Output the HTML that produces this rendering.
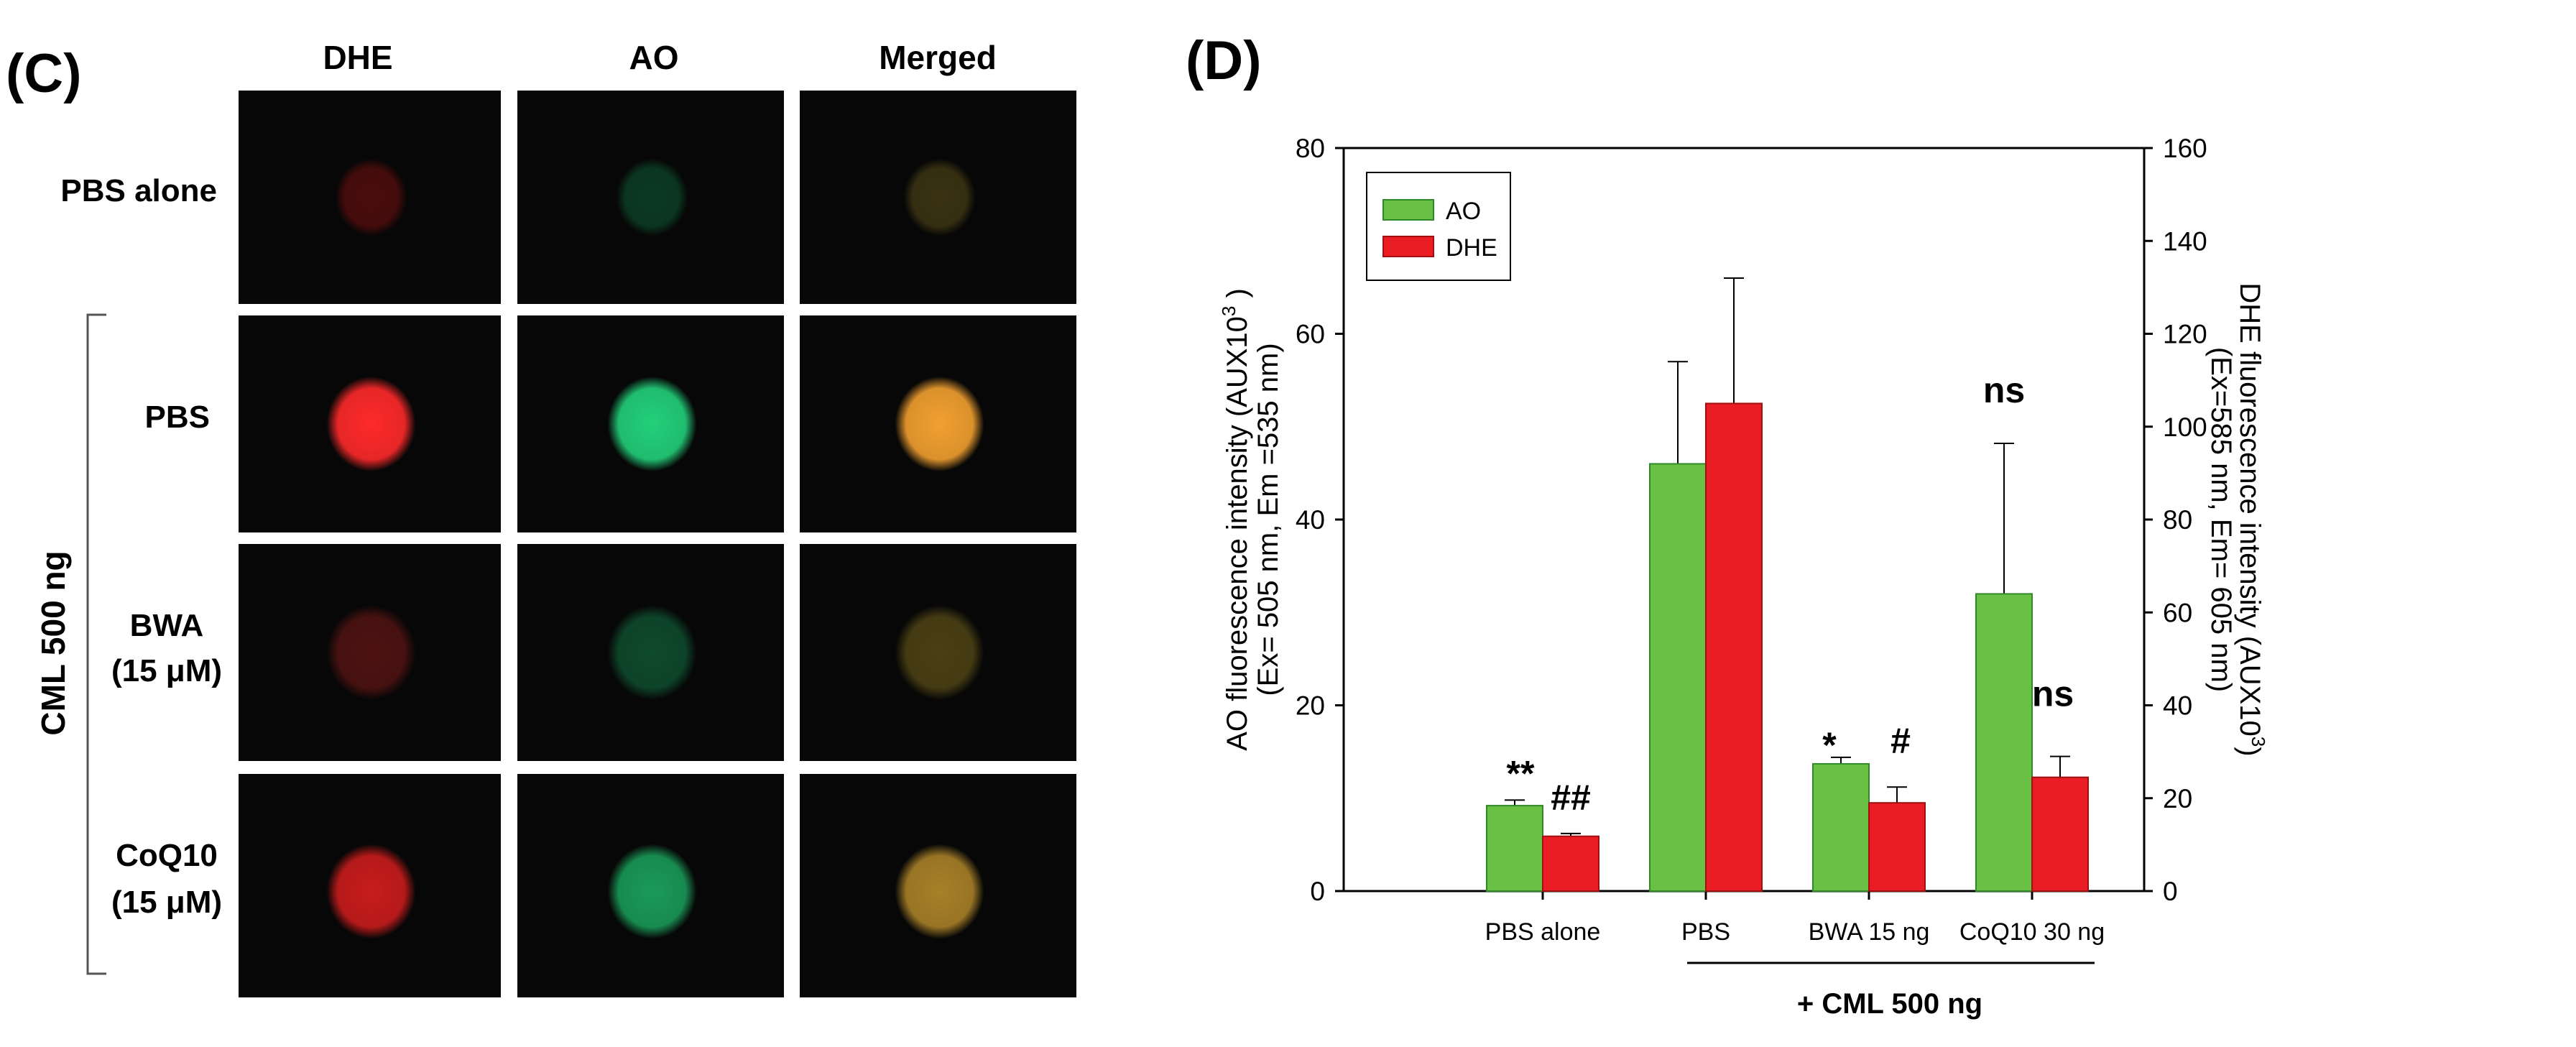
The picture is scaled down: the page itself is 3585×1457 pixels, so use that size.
<!DOCTYPE html>
<html><head><meta charset="utf-8"><style>
html,body{margin:0;padding:0;background:#fff;}
svg{display:block;font-family:"Liberation Sans",sans-serif;}
.b{font-weight:bold;}
</style></head><body>
<svg id="s" width="3585" height="1457" viewBox="0 0 3585 1457" xmlns="http://www.w3.org/2000/svg">
<defs></defs>
<g id="panelC">
<text x="8" y="128" font-size="76" class="b">(C)</text>
<text x="498" y="96" font-size="46" class="b" text-anchor="middle">DHE</text>
<text x="910" y="96" font-size="46" class="b" text-anchor="middle">AO</text>
<text x="1305" y="96" font-size="46" class="b" text-anchor="middle">Merged</text>
<text x="302" y="280" font-size="44" class="b" text-anchor="end">PBS alone</text>
<text x="292" y="595" font-size="44" class="b" text-anchor="end">PBS</text>
<text x="232" y="885" font-size="44" class="b" text-anchor="middle">BWA</text>
<text x="232" y="948" font-size="44" class="b" text-anchor="middle">(15 μM)</text>
<text x="232" y="1205" font-size="44" class="b" text-anchor="middle">CoQ10</text>
<text x="232" y="1270" font-size="44" class="b" text-anchor="middle">(15 μM)</text>
<path d="M148,438 H122 V1355 H148" fill="none" stroke="#555" stroke-width="3"/>
<text transform="translate(90,895) rotate(-90)" font-size="46" class="b" text-anchor="middle">CML 500 ng</text>
</g>
<g id="panelD">
<text x="1650" y="110" font-size="76" class="b">(D)</text>
</g>
</svg>
<script>
// ---- Panel C micrographs ----
const colX=[332,720,1113], colW=[365,371,385];
const rowY=[126,439,757,1077], rowH=[297,302,302,311];
const cellColors=[
 ["#4a0c0c","#0b3a22","#3a3212"],
 ["#ff2a2a","#22d07a","#f2a030"],
 ["#4e1212","#0e4a2c","#4a4014"],
 ["#c81c1c","#1a9a58","#a88028"]
];
const svg=document.getElementById('s');
const C=document.getElementById('panelC');
const NS="http://www.w3.org/2000/svg";
function mk(t,a,p){const e=document.createElementNS(NS,t);for(const k in a)e.setAttribute(k,a[k]);(p||svg).appendChild(e);return e;}
const defs=svg.querySelector('defs');
for(let r=0;r<4;r++)for(let c=0;c<3;c++){
  const g=mk('radialGradient',{id:'g'+r+c},defs);
  mk('stop',{offset:'0','stop-color':cellColors[r][c],'stop-opacity':'1'},g);
  mk('stop',{offset:'0.75','stop-color':cellColors[r][c],'stop-opacity':'0.9'},g);
  mk('stop',{offset:'1','stop-color':cellColors[r][c],'stop-opacity':'0'},g);
  const rect=mk('rect',{x:colX[c],y:rowY[r],width:colW[c],height:rowH[r],fill:'#070707'},C);
  
  
  const rad=r==0?50:62;
  const blob=mk('ellipse',{cx:colX[c]+colW[c]/2+2,cy:rowY[r]+rowH[r]/2+(r==3?8:0),rx:rad,ry:rad+4,fill:'url(#g'+r+c+')'},C);
  
  
}
// ---- Panel D chart data ----
const categories=["PBS alone","PBS","BWA  15 ng","CoQ10 30 ng"];
const aoValues=[9.2,46,13.7,32];
const aoErr=[0.6,11,0.7,16.2];
const dheValues=[11.8,105,19,24.5];
const dheErr=[0.6,27,3.4,4.5];
const leftTicks=[0,20,40,60,80];
const rightTicks=[0,20,40,60,80,100,120,140,160];
const aoMarks=["**","","*","ns"];
const dheMarks=["##","","#","ns"];
const D=document.getElementById('panelD');
const X0=1870,X1=2984,Y0=1240,Y1=206;
const yL=v=>Y0-(v/80)*(Y0-Y1);
const yR=v=>Y0-(v/160)*(Y0-Y1);
const xC=i=>2147+i*227;
const bw=78;
const markOff={"**":[8,-20],"*":[-16,0],"##":[0,-33],"#":[5,-47]};
// axes
let a=mk('path',{d:`M${X0},${Y1} V${Y0} M${X0-12},${Y1} H${X1} V${Y0} M${X0-12},${Y0} H${X1}`,fill:'none',stroke:'#000','stroke-width':3},D);

leftTicks.forEach(t=>{
  const y=yL(t);
  const l=mk('line',{x1:X0-12,x2:X0,y1:y,y2:y,stroke:'#000','stroke-width':3},D);
  
  const tx=mk('text',{x:X0-26,y:y+13,'font-size':37,'text-anchor':'end'},D);tx.textContent=t;
  
});
rightTicks.forEach(t=>{
  const y=yR(t);
  const l=mk('line',{x1:X1,x2:X1+12,y1:y,y2:y,stroke:'#000','stroke-width':3},D);
  
  const tx=mk('text',{x:X1+26,y:y+13,'font-size':37,'text-anchor':'start'},D);tx.textContent=t;
  
});
categories.forEach((c,i)=>{
  const x=xC(i);
  const l=mk('line',{x1:x,x2:x,y1:Y0,y2:Y0+12,stroke:'#000','stroke-width':3},D);
  
  const tx=mk('text',{x:x,y:1308,'font-size':34,'text-anchor':'middle'},D);tx.textContent=c;
  
  // AO bar
  const xa=x-bw/2;
  const ya=yL(aoValues[i]), ye=yL(aoValues[i]+aoErr[i]);
  const e1=mk('path',{d:`M${xa},${ya} V${ye} M${xa-14},${ye} H${xa+14}`,stroke:'#000','stroke-width':2,fill:'none'},D);
  
  const b1=mk('rect',{x:x-bw,y:ya,width:bw,height:Y0-ya,fill:'#6abf45',stroke:'#2f8a2a','stroke-width':2},D);
  
  // DHE bar
  const xd=x+bw/2;
  const yd=yR(dheValues[i]), yde=yR(dheValues[i]+dheErr[i]);
  const e2=mk('path',{d:`M${xd},${yd} V${yde} M${xd-14},${yde} H${xd+14}`,stroke:'#000','stroke-width':2,fill:'none'},D);
  
  const b2=mk('rect',{x:x,y:yd,width:bw,height:Y0-yd,fill:'#ea1c24',stroke:'#a01010','stroke-width':2},D);
  
  if(aoMarks[i]){
    const o=aoMarks[i]=="ns"?[0,-57]:markOff[aoMarks[i]];
    const m=mk('text',{x:xa+o[0],y:ye+o[1],'font-size':50,'text-anchor':'middle','font-weight':'bold'},D);m.textContent=aoMarks[i];
    
  }
  if(dheMarks[i]){
    const o=dheMarks[i]=="ns"?[-10,-70]:markOff[dheMarks[i]];
    const m=mk('text',{x:xd+o[0],y:yde+o[1],'font-size':50,'text-anchor':'middle','font-weight':'bold'},D);m.textContent=dheMarks[i];
    
  }
});
let ln=mk('line',{x1:2348,x2:2915,y1:1340,y2:1340,stroke:'#000','stroke-width':3},D);

let cml=mk('text',{x:2630,y:1410,'font-size':40,'text-anchor':'middle','font-weight':'bold'},D);cml.textContent="+ CML 500 ng";

// legend
let lg=mk('rect',{x:1902,y:240,width:200,height:150,fill:'#fff',stroke:'#000','stroke-width':2},D);

let s1=mk('rect',{x:1925,y:278,width:70,height:28,fill:'#6abf45',stroke:'#2f8a2a','stroke-width':2},D);

let s2=mk('rect',{x:1925,y:329,width:70,height:28,fill:'#ea1c24',stroke:'#a01010','stroke-width':2},D);

let t1=mk('text',{x:2012,y:305,'font-size':34},D);t1.textContent="AO";

let t2=mk('text',{x:2012,y:356,'font-size':34},D);t2.textContent="DHE";

// axis titles
const midY=(Y0+Y1)/2;
let lt=mk('text',{transform:`translate(1735,${midY}) rotate(-90)`,'font-size':40,'text-anchor':'middle'},D);
lt.innerHTML='AO fluorescence intensity (AUX10<tspan dy="-16" font-size="26">3</tspan><tspan dy="16"> )</tspan>';

let lt2=mk('text',{transform:`translate(1778,${midY}) rotate(-90)`,'font-size':40,'text-anchor':'middle'},D);
lt2.textContent='(Ex= 505 nm, Em =535 nm)';

let rt=mk('text',{transform:`translate(3118,${midY}) rotate(90)`,'font-size':40,'text-anchor':'middle'},D);
rt.innerHTML='DHE fluorescence intensity (AUX10<tspan dy="-16" font-size="26">3</tspan><tspan dy="16">)</tspan>';

let rt2=mk('text',{transform:`translate(3078,${midY}) rotate(90)`,'font-size':40,'text-anchor':'middle'},D);
rt2.textContent='(Ex=585 nm, Em= 605 nm)';

</script>
</body></html>
